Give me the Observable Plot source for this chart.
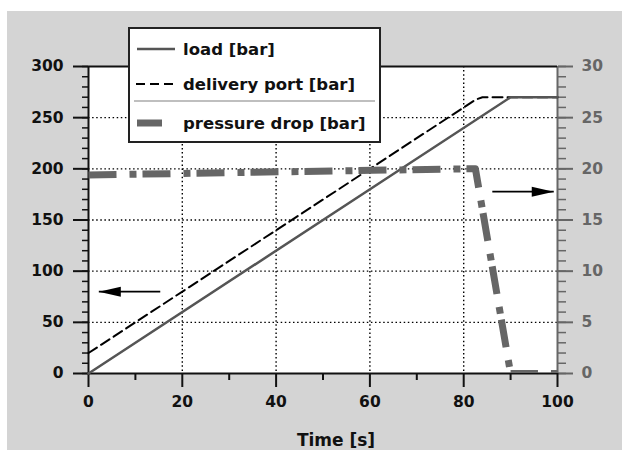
<!DOCTYPE html>
<html>
<head>
<meta charset="utf-8">
<script src="https://cdn.jsdelivr.net/npm/d3@7"></script>
<script src="https://cdn.jsdelivr.net/npm/@observablehq/plot@0.6"></script>
<style>
  html, body { margin: 0; padding: 0; background: #fff; }
  #wrap { position: relative; width: 622px; height: 450px; overflow: hidden; background: #fff; }
  #chart { position: absolute; left: 7px; top: 11px; }
  #legend { position: absolute; left: 0; top: 0; }
</style>
</head>
<body>
<div id="wrap"><div id="chart"></div><svg id="legend" width="622" height="160"></svg></div>
<script>
// ---- data ----
const loadT = [0, 90, 100];
const loadBar = [0, 270, 270];

const deliveryT = [0, 82.5, 84, 100];
const deliveryBar = [20, 267.5, 270, 270];

const dropT = [0, 80, 82.5, 90, 100];
const dropBar = [19.4, 20, 20, 0, 0];   // right axis (0–30)

const xMajor = [0, 20, 40, 60, 80, 100];
const xMinor = [10, 30, 50, 70, 90];
const yMajor = [0, 50, 100, 150, 200, 250, 300];
const yMinor = d3.range(0, 301, 10);
const rMajor = [0, 5, 10, 15, 20, 25, 30];
const rMinor = d3.range(0, 31, 1);
const gridXVals = [20, 40, 60, 80];
const gridYVals = [50, 100, 150, 200, 250];

const legendLabels = ["load [bar]", "delivery port [bar]", "pressure drop [bar]"];
const xLabel = "Time [s]";

// annotation arrows (data units, left axis)
const arrowFrom = [15.3, 86.1];
const arrowTo = [2.2, 99.2];
const arrowY = [80, 177.7];

// ---- build tables ----
const load = loadT.map((t, i) => ({t, v: loadBar[i]}));
const delivery = deliveryT.map((t, i) => ({t, v: deliveryBar[i]}));
const drop = dropT.map((t, i) => ({t, v: dropBar[i] * 10}));
const arrows = arrowFrom.map((x1, i) => ({x1, x2: arrowTo[i], y: arrowY[i], rot: x1 > arrowTo[i] ? 180 : 0}));

const headSymbol = {
  draw(ctx) {
    ctx.moveTo(0, 0);
    ctx.lineTo(-22, -5);
    ctx.lineTo(-22, 5);
    ctx.closePath();
  }
};

const chart = Plot.plot({
  width: 615,
  height: 439,
  marginLeft: 81,
  marginRight: 65,
  marginTop: 55,
  marginBottom: 77,
  x: {domain: [0, 100]},
  y: {domain: [0, 300]},
  style: {background: "#d4d4d4", fontFamily: "'DejaVu Sans', sans-serif", fontWeight: "bold", fontSize: "15px", color: "#111", overflow: "visible"},
  marks: [
    Plot.frame({fill: "white", stroke: null}),
    Plot.gridY(gridYVals, {stroke: "#000", strokeOpacity: 1, strokeWidth: 1.4, strokeDasharray: "1.5,2.6"}),
    Plot.gridX(gridXVals, {stroke: "#000", strokeOpacity: 1, strokeWidth: 1.4, strokeDasharray: "1.5,2.6"}),
    // left axis
    Plot.axisY({ticks: yMinor, tickSize: 6, tickFormat: () => "", label: null, strokeWidth: 1.5, stroke: "#111"}),
    Plot.axisY({ticks: yMajor, tickSize: 15, tickPadding: 10, label: null, strokeWidth: 2, stroke: "#111", fill: "#111", fontSize: 15.5}),
    // right axis
    Plot.axisY({anchor: "right", ticks: rMinor.map(d => d * 10), tickSize: 8, tickFormat: () => "", label: null, strokeWidth: 1.5, stroke: "#666"}),
    Plot.axisY({anchor: "right", ticks: rMajor.map(d => d * 10), tickFormat: d => d / 10, tickSize: 15, tickPadding: 9, label: null, strokeWidth: 2, stroke: "#666", fill: "#666", fontSize: 15.5}),
    // bottom axis
    Plot.axisX({ticks: xMinor, tickSize: 7, tickFormat: () => "", label: null, strokeWidth: 2, stroke: "#111"}),
    Plot.axisX({ticks: xMajor, tickSize: 14, tickPadding: 8, label: null, strokeWidth: 2, stroke: "#111", fill: "#111", fontSize: 15.5}),
    // frame lines
    Plot.ruleX([0], {stroke: "#111", strokeWidth: 2}),
    Plot.ruleX([100], {stroke: "#666", strokeWidth: 2}),
    Plot.ruleY([0], {stroke: "#111", strokeWidth: 2}),
    Plot.ruleY([300], {stroke: "#111", strokeWidth: 2}),
    // series
    Plot.line(delivery, {x: "t", y: "v", stroke: "#000", strokeWidth: 2, strokeDasharray: "10,5"}),
    Plot.line(load, {x: "t", y: "v", stroke: "#555", strokeWidth: 2.5}),
    Plot.line(drop, {x: "t", y: "v", stroke: "#666", strokeWidth: 7, strokeDasharray: "28,13,7,6", strokeLinecap: "butt", clip: true}),
    // arrows
    Plot.link(arrows, {x1: "x1", x2: "x2", y1: "y", y2: "y", stroke: "#000", strokeWidth: 1.8}),
    Plot.dot(arrows, {x: "x2", y: "y", symbol: headSymbol, fill: "#000", stroke: null, rotate: "rot"}),
    // x label
    Plot.text([xLabel], {frameAnchor: "bottom", dx: 13, dy: 67, fontSize: 17, fontWeight: "bold", fill: "#111", lineAnchor: "middle"})
  ]
});
document.getElementById("chart").appendChild(chart);

// ---- legend (overlay) ----
const lg = d3.select("#legend");
lg.append("rect").attr("x", 129).attr("y", 28).attr("width", 251).attr("height", 114)
  .attr("fill", "#fff").attr("stroke", "#222").attr("stroke-width", 2);
const rowsY = [49, 84, 123];
lg.append("line").attr("x1", 137).attr("x2", 175).attr("y1", rowsY[0]).attr("y2", rowsY[0])
  .attr("stroke", "#555").attr("stroke-width", 2.5);
lg.append("line").attr("x1", 136).attr("x2", 176).attr("y1", rowsY[1]).attr("y2", rowsY[1])
  .attr("stroke", "#000").attr("stroke-width", 2).attr("stroke-dasharray", "9,5");
lg.append("line").attr("x1", 134).attr("x2", 375).attr("y1", 101).attr("y2", 101)
  .attr("stroke", "#aaa").attr("stroke-width", 1.5);
lg.append("line").attr("x1", 137).attr("x2", 162).attr("y1", rowsY[2]).attr("y2", rowsY[2])
  .attr("stroke", "#666").attr("stroke-width", 7);
legendLabels.forEach((s, i) => {
  lg.append("text").attr("x", 183).attr("y", rowsY[i]).attr("dy", "0.35em")
    .attr("font-family", "'DejaVu Sans', sans-serif").attr("font-weight", "bold")
    .attr("font-size", 16.5).attr("fill", "#111").text(s);
});
</script>
</body>
</html>
